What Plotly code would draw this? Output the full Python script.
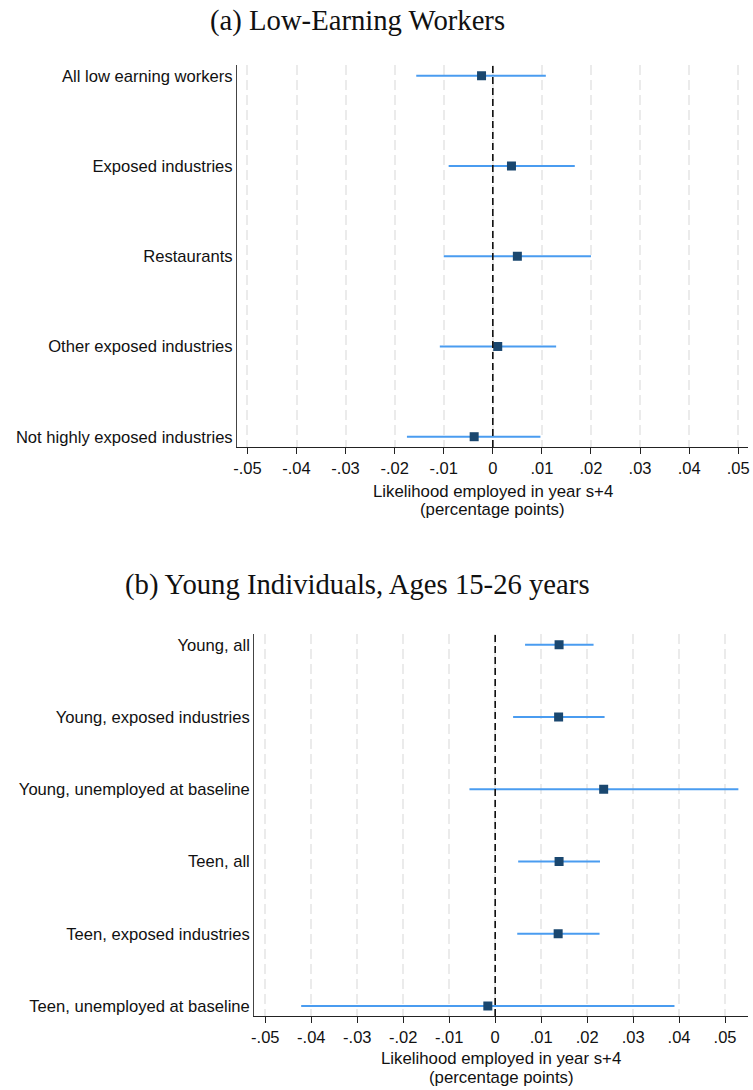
import plotly.graph_objects as go

# Panel (a)
cats_a = ["All low earning workers", "Exposed industries", "Restaurants",
          "Other exposed industries", "Not highly exposed industries"]
est_a = [-0.0023, 0.0038, 0.0050, 0.0010, -0.0038]
lo_a = [-0.0156, -0.0090, -0.0100, -0.0108, -0.0175]
hi_a = [0.0108, 0.0167, 0.0200, 0.0129, 0.0097]

# Panel (b)
cats_b = ["Young, all", "Young, exposed industries", "Young, unemployed at baseline",
          "Teen, all", "Teen, exposed industries", "Teen, unemployed at baseline"]
est_b = [0.0139, 0.0138, 0.0236, 0.0139, 0.0137, -0.0016]
lo_b = [0.0065, 0.0039, -0.0056, 0.0050, 0.0048, -0.0422]
hi_b = [0.0214, 0.0238, 0.0529, 0.0228, 0.0227, 0.0390]

tick_vals = [-0.05, -0.04, -0.03, -0.02, -0.01, 0, 0.01, 0.02, 0.03, 0.04, 0.05]
tick_text = ["-.05", "-.04", "-.03", "-.02", "-.01", "0", ".01", ".02", ".03", ".04", ".05"]

title_a = "(a) Low-Earning Workers"
title_b = "(b) Young Individuals, Ages 15-26 years"
xtitle_1 = "Likelihood employed in year s+4"
xtitle_2 = "(percentage points)"

W, H = 753, 1090
MARK = "#1a476f"
CI = "#4a9cf0"
SANS = "Liberation Sans, Arial"

fig = go.Figure()

def add_panel(est, lo, hi, xa, ya):
    n = len(est)
    ypos = list(range(1, n + 1))
    fig.add_trace(go.Scatter(
        x=est, y=ypos, mode="markers", xaxis=xa, yaxis=ya,
        marker=dict(symbol="square", size=9, color=MARK, line=dict(width=0)),
        error_x=dict(type="data", symmetric=False,
                     array=[h - e for h, e in zip(hi, est)],
                     arrayminus=[e - l for e, l in zip(est, lo)],
                     color=CI, thickness=2, width=0),
        showlegend=False, hoverinfo="skip"))

add_panel(est_a, lo_a, hi_a, "x", "y")
add_panel(est_b, lo_b, hi_b, "x2", "y2")

def px_x(p):
    return p / W

def px_y(p):
    return (H - p) / H

axis_common = dict(
    tickvals=tick_vals, ticktext=tick_text,
    showgrid=True, gridcolor="#ebebeb", gridwidth=1.6, griddash="10px,5px",
    zeroline=False, showline=True, linecolor="#222", linewidth=1.3,
    ticks="outside", ticklen=6, tickwidth=1.2, tickcolor="#222",
    tickfont=dict(family=SANS, size=16.5, color="#111"),
)

yaxis_common = dict(
    showgrid=False, zeroline=False, showline=True, linecolor="#444", linewidth=1.3,
    ticks="", tickfont=dict(family=SANS, size=16.6, color="#111"),
)

def label(text, x, y, size, family, yanchor="middle"):
    return dict(text=text, xref="paper", yref="paper", x=px_x(x), y=px_y(y),
                showarrow=False, xanchor="center", yanchor=yanchor,
                font=dict(family=family, size=size, color="#111"))

fig.update_layout(
    width=W, height=H,
    margin=dict(l=0, r=0, t=0, b=0),
    plot_bgcolor="white", paper_bgcolor="white",
    xaxis=dict(domain=[px_x(235), px_x(750)], range=[-0.0521, 0.0520],
               anchor="y", **axis_common),
    yaxis=dict(domain=[px_y(447), px_y(65)], range=[5.114, 0.881],
               tickvals=list(range(1, len(cats_a) + 1)), ticktext=cats_a,
               anchor="x", **yaxis_common),
    xaxis2=dict(domain=[px_x(252.3), px_x(750)], range=[-0.0524, 0.0550],
                anchor="y2", **axis_common),
    yaxis2=dict(domain=[px_y(1016), px_y(634)], range=[6.138, 0.852],
                tickvals=list(range(1, len(cats_b) + 1)), ticktext=cats_b,
                anchor="x2", **yaxis_common),
    shapes=[
        dict(type="line", xref="x", yref="y domain", x0=0, x1=0, y0=0, y1=1,
             line=dict(color="#111", width=1.6, dash="7px,4px"), layer="above"),
        dict(type="line", xref="x2", yref="y2 domain", x0=0, x1=0, y0=0, y1=1,
             line=dict(color="#111", width=1.6, dash="7px,4px"), layer="above"),
    ],
    annotations=[
        label(title_a, 356, 21, 28.7, "Liberation Serif, serif"),
        label(title_b, 356, 584, 28.7, "Liberation Serif, serif"),
        label(xtitle_1, 492.5, 491, 16.8, SANS),
        label(xtitle_2, 492.5, 509, 16.8, SANS),
        label(xtitle_1, 501, 1058, 16.8, SANS),
        label(xtitle_2, 501, 1077, 16.8, SANS),
    ],
)

fig.write_html("out.html")
